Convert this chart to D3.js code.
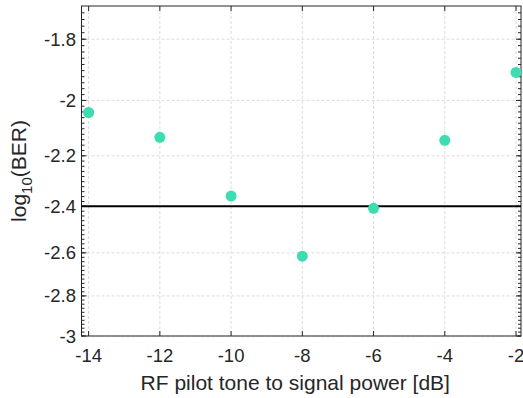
<!DOCTYPE html>
<html>
<head>
<meta charset="utf-8">
<script src="https://cdn.jsdelivr.net/npm/d3@7"></script>
<style>
  body { margin: 0; background: #fff; }
  text { font-family: "Liberation Sans", Arial, sans-serif; fill: #262626; }
</style>
</head>
<body>
<div id="chart"></div>
<script>
// pilot tone to signal power [dB] and measured log10(BER)
var pilotDb = [-14, -12, -10, -8, -6, -4, -2];
var logBer = [-2.042, -2.131, -2.358, -2.615, -2.408, -2.142, -1.906];
var threshold = -2.4;

var xTicks = [-14, -12, -10, -8, -6, -4, -2];
var yTicks = [-1.8, -2, -2.2, -2.4, -2.6, -2.8, -3];

var W = 523, H = 398;
var margin = {top: 6, right: 2, bottom: 62, left: 81.5},
    width = W - margin.left - margin.right,
    height = H - margin.top - margin.bottom;

var svg = d3.select("#chart")
    .append("svg")
    .attr("width", W)
    .attr("height", H)
    .append("g")
    .attr("transform", "translate(" + margin.left + "," + margin.top + ")");

var x = d3.scaleLinear()
    .domain([-14.2, -1.86])
    .range([0, width]);

// axis is logarithmic in |log10(BER)|
var y = d3.scaleLog()
    .domain([-1.7, -3])
    .range([0, height]);

var minor = d3.range(-1.72, -3.001, -0.02).map(v => +v.toFixed(2));

// grid
svg.append("g").selectAll("line.gx")
    .data(xTicks).join("line")
    .attr("x1", d => x(d)).attr("x2", d => x(d))
    .attr("y1", 0).attr("y2", height)
    .attr("stroke", "#dcdcdc").attr("stroke-dasharray", "3,2");

svg.append("g").selectAll("line.gy")
    .data(yTicks).join("line")
    .attr("x1", 0).attr("x2", width)
    .attr("y1", d => y(d)).attr("y2", d => y(d))
    .attr("stroke", "#dcdcdc").attr("stroke-dasharray", "3,2");

// frame
svg.append("rect")
    .attr("width", width).attr("height", height)
    .attr("fill", "none").attr("stroke", "#262626").attr("stroke-width", 1);

var ticks = svg.append("g").attr("stroke", "#262626").attr("stroke-width", 1);

ticks.selectAll("line.xb").data(xTicks).join("line")
    .attr("x1", d => x(d)).attr("x2", d => x(d))
    .attr("y1", height).attr("y2", height - 5);
ticks.selectAll("line.xt").data(xTicks).join("line")
    .attr("x1", d => x(d)).attr("x2", d => x(d))
    .attr("y1", 0).attr("y2", 5);

ticks.selectAll("line.yl").data(yTicks).join("line")
    .attr("x1", 0).attr("x2", 5)
    .attr("y1", d => y(d)).attr("y2", d => y(d));
ticks.selectAll("line.yr").data(yTicks).join("line")
    .attr("x1", width).attr("x2", width - 5)
    .attr("y1", d => y(d)).attr("y2", d => y(d));
ticks.selectAll("line.ml").data(minor).join("line")
    .attr("x1", 0).attr("x2", 3)
    .attr("y1", d => y(d)).attr("y2", d => y(d));
ticks.selectAll("line.mr").data(minor).join("line")
    .attr("x1", width).attr("x2", width - 3)
    .attr("y1", d => y(d)).attr("y2", d => y(d));

// tick labels
svg.append("g").selectAll("text").data(xTicks).join("text")
    .attr("x", d => x(d)).attr("y", height + 26)
    .attr("text-anchor", "middle")
    .style("font-size", "18.5px")
    .text(d => d);

svg.append("g").selectAll("text").data(yTicks).join("text")
    .attr("x", -5.5).attr("y", d => y(d) + 6.5)
    .attr("text-anchor", "end")
    .style("font-size", "18.5px")
    .text(d => d);

// axis titles
svg.append("text")
    .attr("x", width / 2 - 6).attr("y", height + 53.5)
    .attr("text-anchor", "middle")
    .style("font-size", "21px")
    .text("RF pilot tone to signal power [dB]");

var yl = svg.append("text")
    .attr("transform", "translate(" + (-56) + "," + (height / 2) + ") rotate(-90)")
    .attr("text-anchor", "middle")
    .style("font-size", "21px");
yl.append("tspan").text("log");
yl.append("tspan").attr("dy", 6).style("font-size", "15px").text("10");
yl.append("tspan").attr("dy", -6).text("(BER)");

// threshold line
svg.append("line")
    .attr("x1", 0).attr("x2", width)
    .attr("y1", y(threshold)).attr("y2", y(threshold))
    .attr("stroke", "#000").attr("stroke-width", 2);

// points
svg.append("g").selectAll("circle")
    .data(pilotDb).join("circle")
    .attr("cx", d => x(d))
    .attr("cy", (d, i) => y(logBer[i]))
    .attr("r", 5.5)
    .attr("fill", "#3ddcb1");
</script>
</body>
</html>
